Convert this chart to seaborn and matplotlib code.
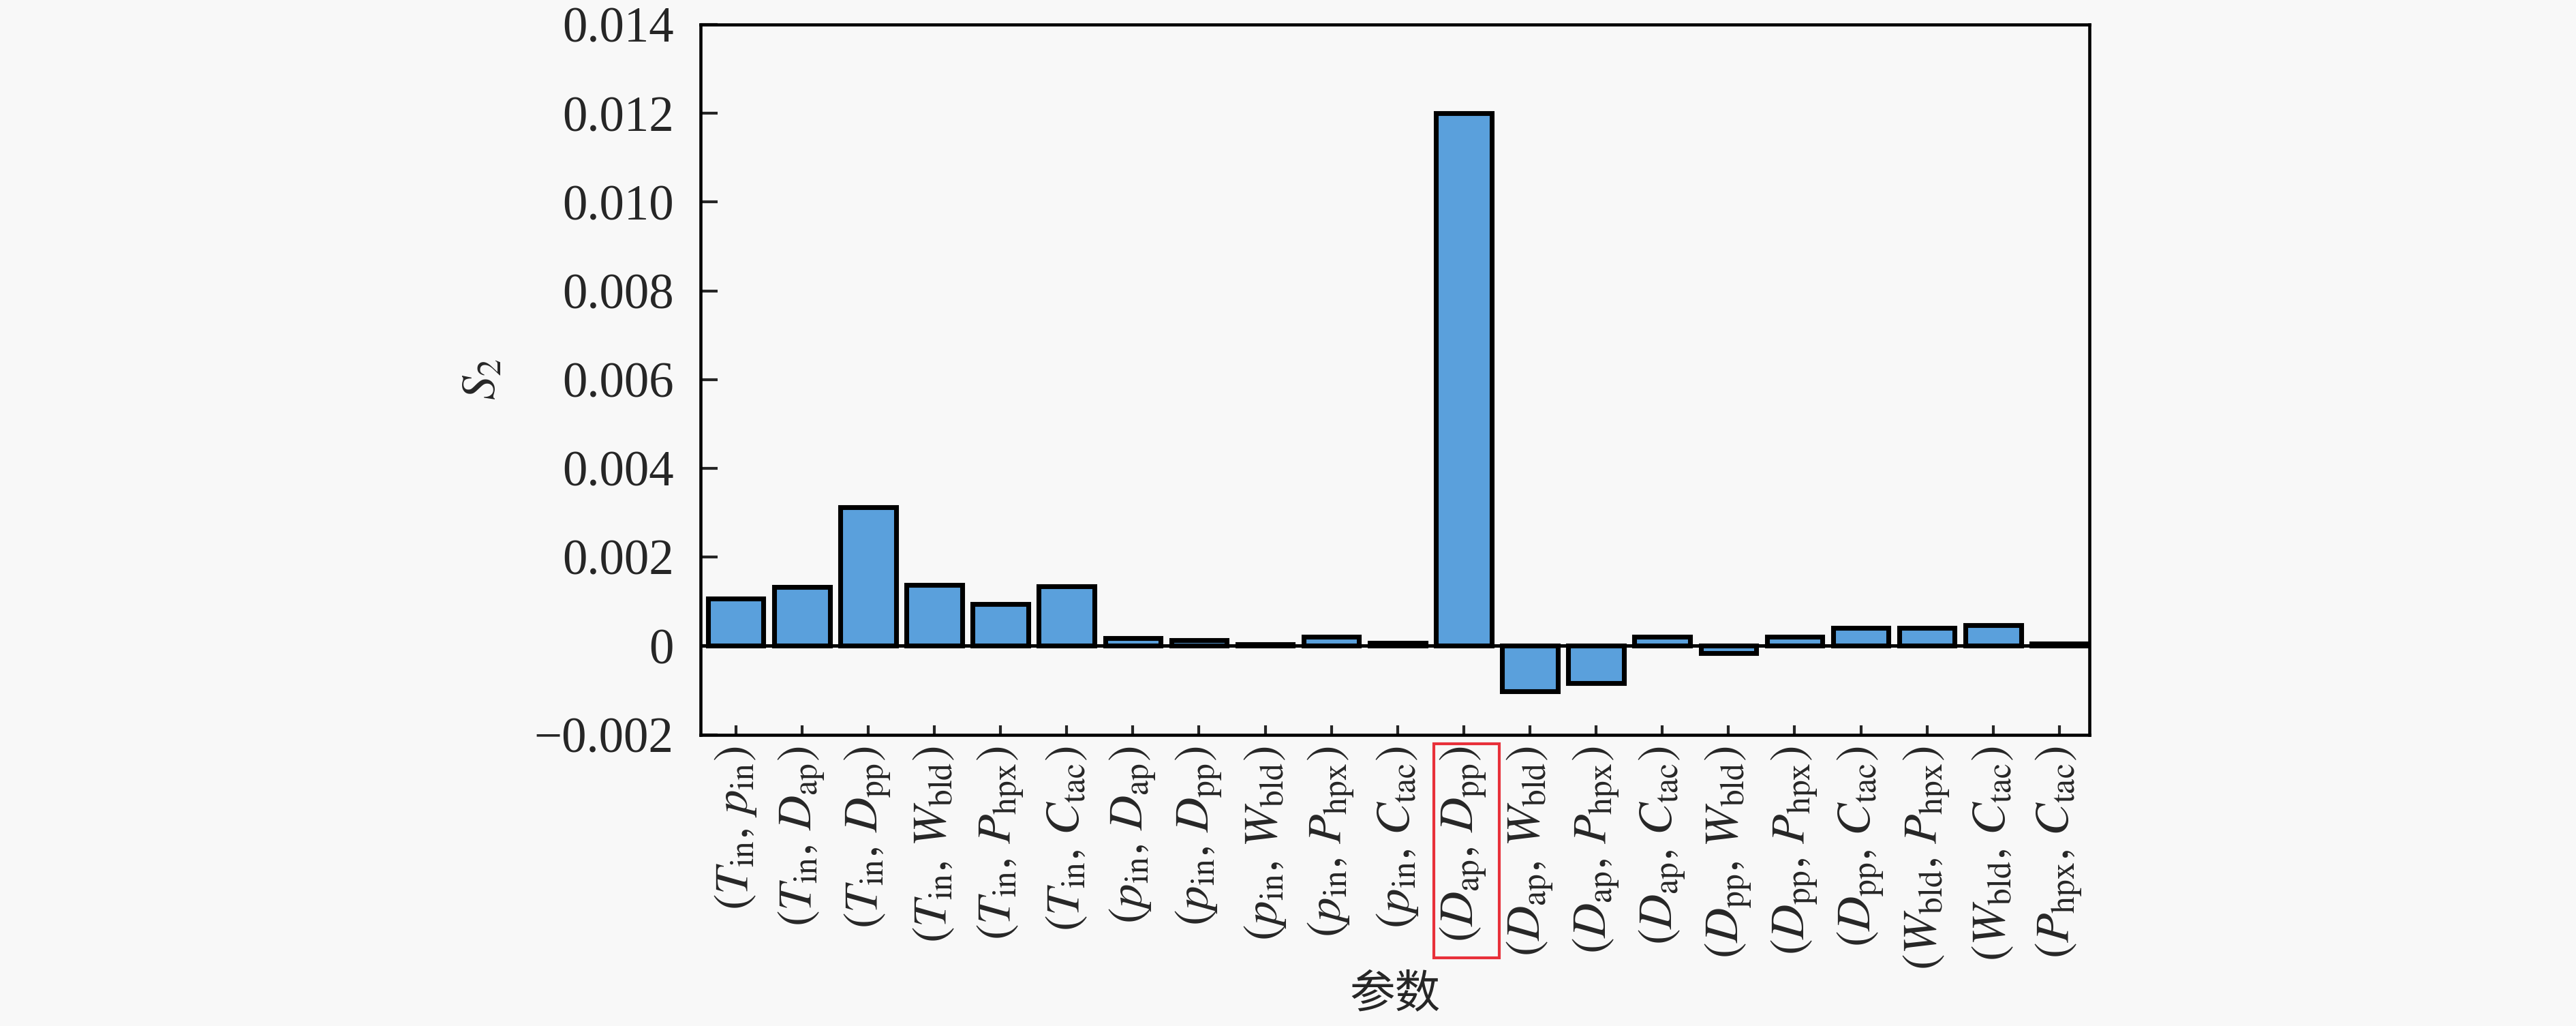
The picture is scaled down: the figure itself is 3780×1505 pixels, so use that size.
import seaborn as sns
import matplotlib.pyplot as plt
import matplotlib.transforms as mtransforms
import pandas as pd
from matplotlib.patches import Rectangle
from matplotlib.ticker import FixedLocator, FuncFormatter

# 二阶敏感度指数 S2 (参数对)
pairs = [
    r"$(T_{\rm in},\,p_{\rm in})$", r"$(T_{\rm in},\,D_{\rm ap})$", r"$(T_{\rm in},\,D_{\rm pp})$",
    r"$(T_{\rm in},\,W_{\rm bld})$", r"$(T_{\rm in},\,P_{\rm hpx})$", r"$(T_{\rm in},\,C_{\rm tac})$",
    r"$(p_{\rm in},\,D_{\rm ap})$", r"$(p_{\rm in},\,D_{\rm pp})$", r"$(p_{\rm in},\,W_{\rm bld})$",
    r"$(p_{\rm in},\,P_{\rm hpx})$", r"$(p_{\rm in},\,C_{\rm tac})$", r"$(D_{\rm ap},\,D_{\rm pp})$",
    r"$(D_{\rm ap},\,W_{\rm bld})$", r"$(D_{\rm ap},\,P_{\rm hpx})$", r"$(D_{\rm ap},\,C_{\rm tac})$",
    r"$(D_{\rm pp},\,W_{\rm bld})$", r"$(D_{\rm pp},\,P_{\rm hpx})$", r"$(D_{\rm pp},\,C_{\rm tac})$",
    r"$(W_{\rm bld},\,P_{\rm hpx})$", r"$(W_{\rm bld},\,C_{\rm tac})$", r"$(P_{\rm hpx},\,C_{\rm tac})$",
]
s2 = [0.00107, 0.00132, 0.00313, 0.00137, 0.00094, 0.00134,
      0.00018, 0.00013, 0.00003, 0.00020, 0.00006, 0.01200,
      -0.00103, -0.00084, 0.00021, -0.00017, 0.00020, 0.00040,
      0.00040, 0.00047, 0.00005]
y_ticks = [-0.002, 0, 0.002, 0.004, 0.006, 0.008, 0.010, 0.012, 0.014]
highlight = 11  # (D_ap, D_pp)

df = pd.DataFrame({"pair": pairs, "S2": s2})

sns.set_theme(style="ticks")
plt.rcParams['font.family'] = ['Liberation Serif', 'Noto Sans CJK SC']
plt.rcParams['mathtext.fontset'] = 'stix'
bg = '#f8f8f8'

fig, ax = plt.subplots(figsize=(12.6, 5.0167), dpi=300, facecolor=bg)
ax.set_facecolor(bg)
fig.subplots_adjust(left=0.272, right=0.811, top=0.976, bottom=0.284)

sns.barplot(data=df, x="pair", y="S2", order=pairs, color='#5aa0dc', saturation=1,
            edgecolor='black', linewidth=1.7, width=0.84, ax=ax)
ax.axhline(0, color='black', lw=1.2, zorder=3)

ax.set_xlim(-0.53, len(pairs) - 0.55)
ax.set_ylim(-0.002, 0.014)
ax.yaxis.set_major_locator(FixedLocator(y_ticks))
ax.yaxis.set_major_formatter(FuncFormatter(
    lambda v, p: "0" if abs(v) < 1e-12 else f"{v:.3f}".replace("-", "\u2212")))

ax.tick_params(axis='y', direction='in', length=6, width=1.0, labelsize=17.5, pad=9.5)
ax.tick_params(axis='x', direction='in', length=3.4, width=1.0, labelsize=17, pad=4,
               labelrotation=90)
for sp in ax.spines.values():
    sp.set_linewidth(1.1)
    sp.set_color('black')

ax.set_ylabel(r"$S_2$", fontsize=17, labelpad=10)
ax.set_xlabel("参数", fontsize=16)
ax.xaxis.set_label_coords(0.5, -0.338)

# 红框标出最大项
trans = mtransforms.blended_transform_factory(ax.transData, ax.transAxes)
ax.add_patch(Rectangle((highlight - 0.45, -0.314), 0.99, 0.3015, transform=trans,
                       fill=False, edgecolor='#e8303a', lw=1.0, clip_on=False))

plt.savefig("out.png", dpi=300, facecolor=bg)
